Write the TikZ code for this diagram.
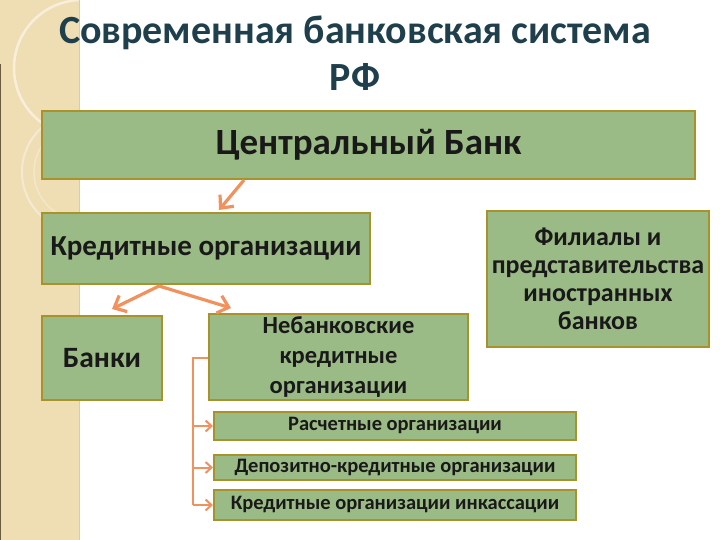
\documentclass[tikz,border=0pt]{standalone}
\usepackage{fontspec}
\setmainfont{Carlito}
\usetikzlibrary{arrows.meta,calc}
\definecolor{boxfill}{HTML}{9BBB86}
\definecolor{boxline}{HTML}{A8922C}
\definecolor{arrowc}{HTML}{F0915E}
\definecolor{titlec}{HTML}{1E3F4B}
\definecolor{stripc}{HTML}{EFDDB3}
\definecolor{stripedge}{HTML}{6A5A40}
\tikzset{
  gbox/.style={draw=boxline, line width=2pt, fill=boxfill, inner sep=2pt, align=center, text=black!90, font=\bfseries},
  bigarrow/.style={draw=arrowc, line width=3.2pt, -{Straight Barb[length=10pt,width=18pt,line width=3.2pt]}},
  smallarrow/.style={draw=arrowc, line width=2pt, -{Straight Barb[length=6pt,width=11pt,line width=2pt]}},
  bline/.style={draw=arrowc, line width=2pt}
}
\begin{document}
\begin{tikzpicture}[x=1pt,y=-1pt]
\useasboundingbox (0,0) rectangle (720,540);
% left decorative strip
\fill[stripc] (0,0) rectangle (79,540);
\begin{scope}
\clip (0,0) rectangle (79,540);
\draw[white, opacity=0.55, line width=2.5pt] (82,68) circle (68);
\draw[white, opacity=0.4, line width=2pt] (82,172) circle (60);
\draw[white, opacity=0.3, line width=1.5pt] (82,172) circle (48);
\end{scope}
\draw[stripedge, line width=1.2pt] (0.6,64) -- (0.6,540);
\draw[black!20, line width=0.8pt] (79,0) -- (79,540);
% title
\node[font=\bfseries\fontsize{40}{44}\selectfont, text=titlec] (t1) at (355,33) {Современная банковская система};
\node[font=\bfseries\fontsize{40}{44}\selectfont, text=titlec] (t2) at (355,77) {РФ};
% boxes
\node[gbox, minimum width=653pt, minimum height=68pt, font=\bfseries\fontsize{37}{40}\selectfont] (cb) at (368.5,145) {Центральный Банк};
\node[gbox, minimum width=328pt, minimum height=71pt, font=\bfseries\fontsize{29}{32}\selectfont] (ko) at (206,248.5) {Кредитные организации};
\node[gbox, minimum width=120pt, minimum height=84pt, font=\bfseries\fontsize{29.5}{32}\selectfont] (banks) at (102,358) {Банки};
\node[gbox, minimum width=259pt, minimum height=86pt, font=\bfseries\fontsize{24.5}{30}\selectfont] (nko) at (338.5,357) {Небанковские\\кредитные\\организации};
\node[gbox, minimum width=222pt, minimum height=136pt, font=\bfseries\fontsize{26}{28}\selectfont] (fil) at (598,279) {Филиалы и\\представительства\\иностранных\\банков};
\node[gbox, minimum width=362pt, minimum height=28pt, font=\bfseries\fontsize{20.5}{22}\selectfont] (ras) at (395,426) {\raisebox{-2pt}{Расчетные организации}};
\node[gbox, minimum width=362pt, minimum height=25pt, font=\bfseries\fontsize{20.5}{22}\selectfont] (dep) at (395,467.5) {Депозитно-кредитные организации};
\node[gbox, minimum width=362pt, minimum height=30pt, font=\bfseries\fontsize{20.5}{22}\selectfont] (ink) at (395,505) {Кредитные организации инкассации};
% arrows
\draw[bigarrow] ($(cb.south west)+(203,0)$) -- ($(ko.north west)+(178,-2)$);
\coordinate (kob) at ($(ko.south west)+(118,1)$);
\draw[bigarrow] (kob) -- ($(banks.north west)+(71,-6)$);
\draw[bigarrow] (kob) -- ($(nko.north west)+(23,-5)$);
% bracket
\coordinate (br) at (193,358);
\draw[bline] (nko.west |- br) -- (br) -- (br |- ink.west);
\draw[smallarrow] (br |- ras.west) -- (ras.west);
\draw[smallarrow] (br |- dep.west) -- (dep.west);
\draw[smallarrow] (br |- ink.west) -- (ink.west);
\end{tikzpicture}
\end{document}
